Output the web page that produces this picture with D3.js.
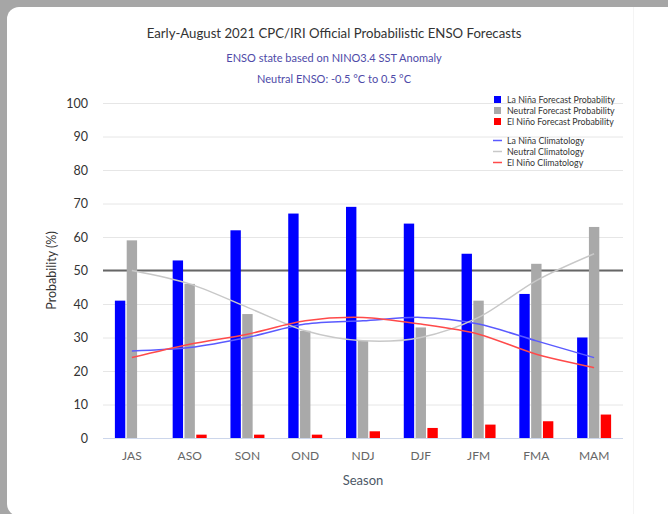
<!DOCTYPE html>
<html>
<head>
<meta charset="utf-8">
<script src="https://cdn.jsdelivr.net/npm/d3@7/dist/d3.min.js"></script>
<style>
  html, body { margin: 0; padding: 0; background: #a6a6a6; }
  svg { display: block; font-family: Lato, "Liberation Sans", sans-serif; }
</style>
</head>
<body>
<svg id="chart" width="668" height="514"></svg>
<script>
"use strict";

var categories = ['JAS', 'ASO', 'SON', 'OND', 'NDJ', 'DJF', 'JFM', 'FMA', 'MAM'];
var laNinaProb = [41, 53, 62, 67, 69, 64, 55, 43, 30];
var neutralProb = [59, 46, 37, 32, 29, 33, 41, 52, 63];
var elNinoProb = [0, 1, 1, 1, 2, 3, 4, 5, 7];
var laNinaClim = [26, 27, 30, 34, 35, 36, 34, 29, 24];
var neutralClim = [50, 46, 39, 32, 29, 30, 36, 47, 55];
var elNinoClim = [24, 28, 31, 35, 36, 34, 31, 25, 21];
var yTicks = [0, 10, 20, 30, 40, 50, 60, 70, 80, 90, 100];

var barSeries = [
  { key: 'lanina', name: 'La Niña Forecast Probability', color: '#0000ff', values: laNinaProb },
  { key: 'neutral', name: 'Neutral Forecast Probability', color: '#a9a9a9', values: neutralProb },
  { key: 'elnino', name: 'El Niño Forecast Probability', color: '#ff0000', values: elNinoProb }
];
var lineSeries = [
  { name: 'La Niña Climatology', color: '#5a5aff', values: laNinaClim },
  { name: 'Neutral Climatology', color: '#c8c8c8', values: neutralClim },
  { name: 'El Niño Climatology', color: '#ff4a4a', values: elNinoClim }
];

var svg = d3.select('#chart');

// white panel with rounded corners over the grey frame
svg.append('rect')
  .attr('x', 7).attr('y', 7)
  .attr('width', 720).attr('height', 509)
  .attr('rx', 12).attr('ry', 12)
  .attr('fill', '#ffffff');
svg.append('line')
  .attr('x1', 633.5).attr('x2', 633.5)
  .attr('y1', 7).attr('y2', 514)
  .attr('stroke', '#f4f4f4');

var margin = { top: 103, right: 45, bottom: 76, left: 103 };
var width = 668 - margin.left - margin.right;
var height = 514 - margin.top - margin.bottom;

// titles
svg.append('text')
  .attr('x', 334).attr('y', 38)
  .attr('text-anchor', 'middle')
  .attr('font-size', 13.2)
  .attr('fill', '#333333')
  .text('Early-August 2021 CPC/IRI Official Probabilistic ENSO Forecasts');
svg.append('text')
  .attr('x', 334).attr('y', 62)
  .attr('text-anchor', 'middle')
  .attr('font-size', 11)
  .attr('fill', '#4e4aa8')
  .text('ENSO state based on NINO3.4 SST Anomaly');
svg.append('text')
  .attr('x', 334).attr('y', 83)
  .attr('text-anchor', 'middle')
  .attr('font-size', 11)
  .attr('fill', '#4e4aa8')
  .text('Neutral ENSO: -0.5 °C to 0.5 °C');

var g = svg.append('g').attr('transform', 'translate(' + margin.left + ',' + margin.top + ')');

var x = d3.scaleBand().domain(categories).range([0, width]);
var groupWidth = 34;
var x1 = d3.scaleBand().domain(barSeries.map(function (d) { return d.key; }))
  .range([0, groupWidth]).paddingInner(0.12);
var y = d3.scaleLinear().domain([0, 100]).range([height, 0]);

// Y axis with grid lines
var yAxis = g.append('g')
  .call(d3.axisLeft(y).tickValues(yTicks).tickSize(-width).tickPadding(15));
yAxis.select('.domain').remove();
yAxis.selectAll('.tick line').attr('stroke', '#e6e6e6');
yAxis.selectAll('.tick text')
  .attr('font-size', 12.5)
  .attr('fill', '#333333')
  .attr('font-family', 'Lato, sans-serif');
yAxis.selectAll('.tick').filter(function (d) { return d === 0; }).select('line').attr('stroke', '#ccd6eb');

// X axis labels
var xAxis = g.append('g')
  .attr('transform', 'translate(0,' + height + ')')
  .call(d3.axisBottom(x).tickSize(0).tickPadding(13));
xAxis.select('.domain').remove();
xAxis.selectAll('.tick text')
  .attr('font-size', 12)
  .attr('fill', '#666666')
  .attr('font-family', 'Lato, sans-serif');

// axis titles
svg.append('text')
  .attr('x', margin.left + width / 2).attr('y', 485)
  .attr('text-anchor', 'middle')
  .attr('font-size', 13)
  .attr('fill', '#4d5866')
  .text('Season');
svg.append('text')
  .attr('transform', 'translate(56,' + (margin.top + height / 2) + ') rotate(-90)')
  .attr('text-anchor', 'middle')
  .attr('font-size', 12.5)
  .attr('fill', '#333333')
  .text('Probability (%)');

// neutral threshold at 50%
g.append('line')
  .attr('x1', 0).attr('x2', width)
  .attr('y1', y(50)).attr('y2', y(50))
  .attr('stroke', '#666666')
  .attr('stroke-width', 2);

// bars
g.append('g').selectAll('g')
  .data(barSeries).enter().append('g')
  .attr('fill', function (d) { return d.color; })
  .selectAll('rect')
  .data(function (s) {
    return s.values.map(function (v, i) { return { key: s.key, cat: categories[i], value: v }; });
  })
  .enter().append('rect')
  .attr('x', function (d) { return x(d.cat) + (x.bandwidth() - groupWidth) / 2 + x1(d.key); })
  .attr('y', function (d) { return y(d.value); })
  .attr('width', x1.bandwidth())
  .attr('height', function (d) { return y(0) - y(d.value); });

// climatology splines
var line = d3.line()
  .x(function (d, i) { return x(categories[i]) + x.bandwidth() / 2; })
  .y(function (d) { return y(d); })
  .curve(d3.curveCardinal.tension(0.1));

g.append('g').selectAll('path')
  .data(lineSeries).enter().append('path')
  .attr('d', function (d) { return line(d.values); })
  .attr('fill', 'none')
  .attr('stroke', function (d) { return d.color; })
  .attr('stroke-width', 1.5);

// legend
var legend = svg.append('g').attr('font-size', 8.8).attr('fill', '#333333');
barSeries.forEach(function (s, i) {
  var ly = 99.5 + i * 11;
  legend.append('rect')
    .attr('x', 494).attr('y', ly - 3.5)
    .attr('width', 7).attr('height', 7)
    .attr('fill', s.color);
  legend.append('text')
    .attr('x', 507).attr('y', ly + 3)
    .text(s.name);
});
lineSeries.forEach(function (s, i) {
  var ly = 140.5 + i * 11;
  legend.append('line')
    .attr('x1', 493).attr('x2', 502)
    .attr('y1', ly).attr('y2', ly)
    .attr('stroke', s.color)
    .attr('stroke-width', 1.5);
  legend.append('text')
    .attr('x', 507).attr('y', ly + 3)
    .text(s.name);
});
</script>
</body>
</html>
